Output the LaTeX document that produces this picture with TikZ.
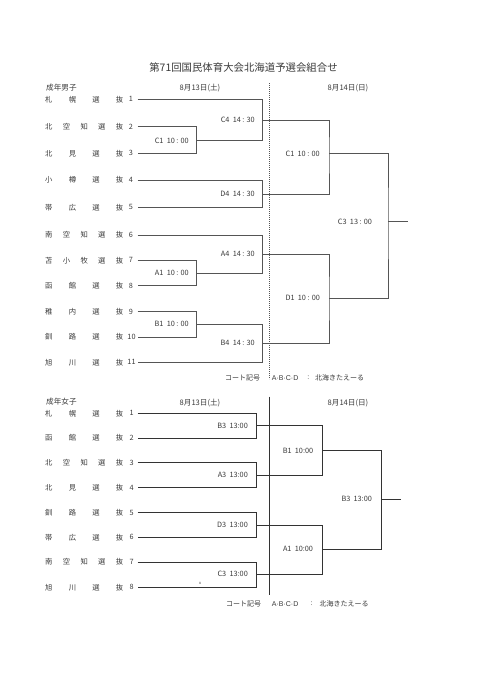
\documentclass[tikz,border=0pt]{standalone}
\usepackage{fontspec}
\setmainfont{Noto Sans CJK JP}
\newfontfamily\latn{Liberation Sans}
\definecolor{txt}{HTML}{3A3A3A}
\definecolor{lnA}{HTML}{555555}
\definecolor{lnB}{HTML}{333333}
\tikzset{
  teamname/.style={anchor=west,inner sep=0pt,font=\fontsize{7.3}{8}\selectfont,text=txt},
  teamnum/.style={inner sep=0pt,font=\fontsize{7.3}{8}\selectfont,text=txt},
  lab/.style={inner sep=0pt,font=\fontsize{7.3}{8}\selectfont,text=txt},
  note/.style={inner sep=0pt,font=\fontsize{7}{8}\selectfont,text=txt},
  head/.style={inner sep=0pt,font=\fontsize{7.6}{8}\selectfont,text=txt},
  bracketA/.style={draw=lnA,line width=0.8pt},
  bracketB/.style={draw=lnB,line width=0.8pt},
}
\newcommand\team[5]{%
  \node[teamname] (#1n) at (45,#2) {\makebox[78pt][s]{#3}};
  \node[teamnum] (#1) at (#5,#2) {#4};
  \coordinate (#1s) at (137.5,#2);}
\begin{document}
\begin{tikzpicture}[x=1pt,y=-1pt]
\useasboundingbox[fill=white] (0,0) rectangle (481,680);
\node[inner sep=0pt,font=\fontsize{10.4}{12}\selectfont,text=txt] (title) at (243.5,68) {第71回国民体育大会北海道予選会組合せ};

% ---------------- Men ----------------
\node[head,anchor=west] (menh) at (46,88) {成年男子};
\node[head] (d13a) at (200,88) {8月13日(土)};
\node[head] (d14a) at (348,88) {8月14日(日)};
\coordinate (dotT) at (269,83);
\coordinate (dotB) at (269,379);
\draw[lnA,line width=0.7pt,dash pattern=on 0.7pt off 1.3pt] (dotT) -- (dotB);

\team{m1}{99.3}{札\hfill 幌\hfill 選\hfill 抜}{1}{131}
\team{m2}{126.7}{北\hfill 空\hfill 知\hfill 選\hfill 抜}{2}{131}
\team{m3}{153.3}{北\hfill 見\hfill 選\hfill 抜}{3}{131}
\team{m4}{180}{小\hfill 樽\hfill 選\hfill 抜}{4}{131}
\team{m5}{207.3}{帯\hfill 広\hfill 選\hfill 抜}{5}{131}
\team{m6}{235}{南\hfill 空\hfill 知\hfill 選\hfill 抜}{6}{131}
\team{m7}{260.3}{苫\hfill 小\hfill 牧\hfill 選\hfill 抜}{7}{131}
\team{m8}{285.7}{函\hfill 館\hfill 選\hfill 抜}{8}{131}
\team{m9}{311.7}{稚\hfill 内\hfill 選\hfill 抜}{9}{131}
\team{m10}{337}{釧\hfill 路\hfill 選\hfill 抜}{10}{131.5}
\team{m11}{362.3}{旭\hfill 川\hfill 選\hfill 抜}{11}{131.5}

\coordinate (C1m) at (196.7,140);
\coordinate (C4m) at (262.7,120);
\coordinate (D4m) at (262.7,194);
\coordinate (A1m) at (196.7,273);
\coordinate (A4m) at (262.7,254);
\coordinate (B1m) at (196.7,324);
\coordinate (B4m) at (262.7,343);
\coordinate (C1d) at (329,153.3);
\coordinate (D1d) at (329,298.3);
\coordinate (C3f) at (388,221);
\coordinate (winM) at (407.7,221);

\draw[bracketA] (m2s) -| (C1m) |- (m3s);
\draw[bracketA] (m1s) -| (C4m) |- (C1m);
\draw[bracketA] (m4s) -| (D4m) |- (m5s);
\draw[bracketA] (m7s) -| (A1m) |- (m8s);
\draw[bracketA] (m6s) -| (A4m) |- (A1m);
\draw[bracketA] (m9s) -| (B1m) |- (m10s);
\draw[bracketA] (B1m) -| (B4m) |- (m11s);
\draw[bracketA] (C4m) -| (C1d) |- (D4m);
\draw[bracketA] (A4m) -| (D1d) |- (B4m);
\draw[bracketA] (C1d) -| (C3f) |- (D1d);
\draw[bracketA] (C3f) -- (winM);

\node[lab,anchor=east] (lC1) at (189,140.7) {C1\ \ 10 : 00};
\node[lab,anchor=east] (lC4) at (255,120) {C4\ \ 14 : 30};
\node[lab,anchor=east] (lD4) at (255,194) {D4\ \ 14 : 30};
\node[lab,anchor=east] (lA1) at (189,273) {A1\ \ 10 : 00};
\node[lab,anchor=east] (lA4) at (255,253.7) {A4\ \ 14 : 30};
\node[lab,anchor=east] (lB1) at (189,324) {B1\ \ 10 : 00};
\node[lab,anchor=east] (lB4) at (255,343) {B4\ \ 14 : 30};
\node[lab] (lC1d) at (302.7,154) {C1\ \ 10 : 00};
\node[lab] (lD1d) at (302.7,298.3) {D1\ \ 10 : 00};
\node[lab] (lC3f) at (355,221.5) {C3\ \ 13 : 00};

\node[note,anchor=west] (cm1) at (225,377.7) {コート記号};
\node[note,anchor=west] (cm2) at (271.7,377.7) {{\latn A·B·C·D}};
\node[note] (cm3) at (308.3,377.7) {:};
\node[note,anchor=west] (cm4) at (315,377.7) {北海きたえーる};

% ---------------- Women ----------------
\node[head,anchor=west] (womh) at (46,402) {成年女子};
\node[head] (d13b) at (200,402.7) {8月13日(土)};
\node[head] (d14b) at (348,402.7) {8月14日(日)};
\coordinate (solT) at (269.3,396.5);
\coordinate (solB) at (269.3,595);
\draw[lnB,line width=0.8pt] (solT) -- (solB);

\team{w1}{413.3}{札\hfill 幌\hfill 選\hfill 抜}{1}{131.7}
\team{w2}{437.9}{函\hfill 館\hfill 選\hfill 抜}{2}{131.7}
\team{w3}{462.8}{北\hfill 空\hfill 知\hfill 選\hfill 抜}{3}{131.7}
\team{w4}{487.5}{北\hfill 見\hfill 選\hfill 抜}{4}{131.7}
\team{w5}{512.6}{釧\hfill 路\hfill 選\hfill 抜}{5}{131.7}
\team{w6}{537.3}{帯\hfill 広\hfill 選\hfill 抜}{6}{131.7}
\team{w7}{561.9}{南\hfill 空\hfill 知\hfill 選\hfill 抜}{7}{131.7}
\team{w8}{587.3}{旭\hfill 川\hfill 選\hfill 抜}{8}{131.7}

\coordinate (B3w) at (256.7,425.4);
\coordinate (A3w) at (256.7,475);
\coordinate (D3w) at (256.7,525);
\coordinate (C3w) at (256.7,574.6);
\coordinate (B1w) at (322.3,450.7);
\coordinate (A1w) at (322.3,549.3);
\coordinate (B3f) at (381.7,499.3);
\coordinate (winW) at (401,499.3);

\draw[bracketB] (w1s) -| (B3w) |- (w2s);
\draw[bracketB] (w3s) -| (A3w) |- (w4s);
\draw[bracketB] (w5s) -| (D3w) |- (w6s);
\draw[bracketB] (w7s) -| (C3w) |- (w8s);
\draw[bracketB] (B3w) -| (B1w) |- (A3w);
\draw[bracketB] (D3w) -| (A1w) |- (C3w);
\draw[bracketB] (B1w) -| (B3f) |- (A1w);
\draw[bracketB] (B3f) -- (winW);

\node[lab,anchor=east] (lB3w) at (248,425.4) {B3\ \ 13:00};
\node[lab,anchor=east] (lA3w) at (248,475) {A3\ \ 13:00};
\node[lab,anchor=east] (lD3w) at (248,525) {D3\ \ 13:00};
\node[lab,anchor=east] (lC3w) at (248,574) {C3\ \ 13:00};
\node[lab] (lB1w) at (298,450.7) {B1\ \ 10:00};
\node[lab] (lA1w) at (298,549.3) {A1\ \ 10:00};
\node[lab] (lB3f) at (356.7,499.3) {B3\ \ 13:00};
\node[inner sep=0pt,font=\fontsize{4}{4}\selectfont,text=txt] (xmark) at (200,583.3) {x};

\node[note,anchor=west] (cw1) at (226,604) {コート記号};
\node[note,anchor=west] (cw2) at (271.7,604) {{\latn A·B·C·D}};
\node[note] (cw3) at (311.7,604) {:};
\node[note,anchor=west] (cw4) at (319.3,604) {北海きたえーる};
\end{tikzpicture}
\end{document}
